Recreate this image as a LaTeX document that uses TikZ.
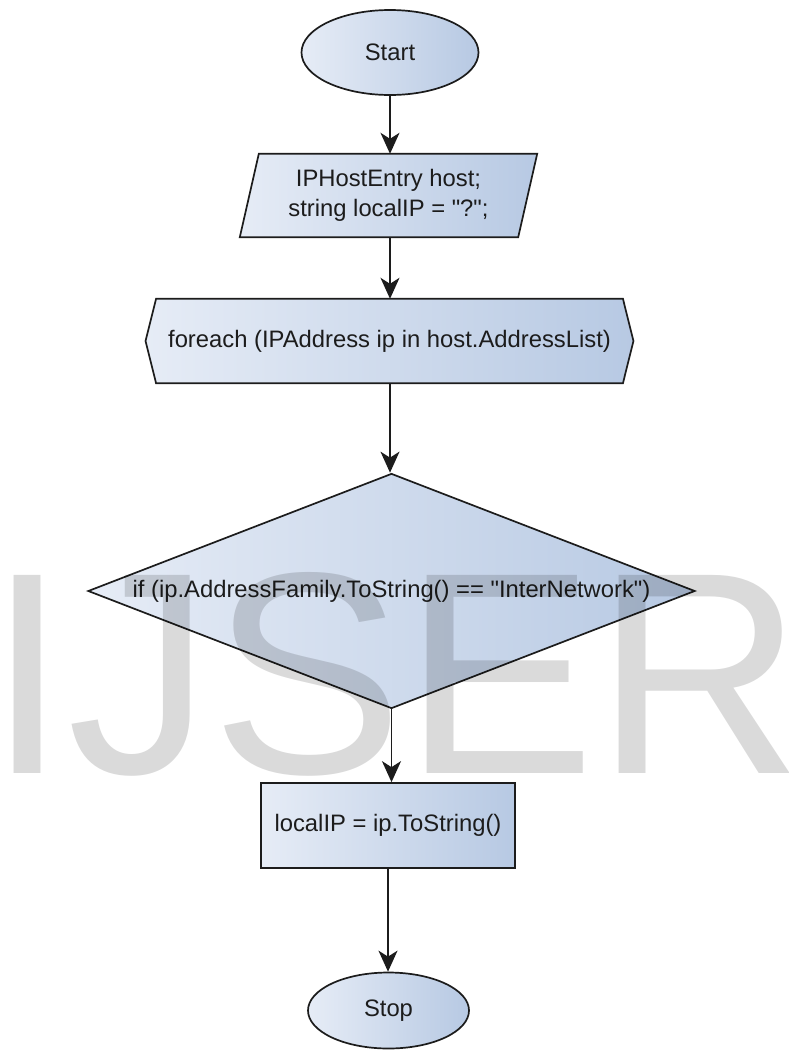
\documentclass[tikz,border=0pt]{standalone}
\usepackage{fontspec}
\newfontfamily\lib{Liberation Sans}
\usetikzlibrary{shapes.geometric,arrows.meta,calc}
\definecolor{gL}{RGB}{230,236,246}
\definecolor{gR}{RGB}{183,201,227}
\definecolor{ink}{RGB}{28,28,28}
\pgfdeclarelayer{bottom}
\pgfdeclarelayer{background}
\pgfdeclarelayer{front}
\pgfsetlayers{bottom,background,main,front}
\begin{document}
\begin{tikzpicture}[x=1pt,y=-1pt,
  font=\lib\fontsize{23.8}{30}\selectfont, text=ink,
  shp/.style={draw=ink, line width=1.7pt, left color=gL, right color=gR},
  box/.style={shp, rectangle, inner sep=0pt},
  term/.style={shp, ellipse, inner sep=0pt},
  ghost/.style={rectangle, inner sep=0pt, draw=none, align=center},
  flow/.style={draw=ink, line width=1.7pt, -{Stealth[length=21pt,width=19pt,inset=6pt]}}
]
\begin{pgfonlayer}{bottom}
  \fill[white] (0,0) rectangle (789,1050);
\end{pgfonlayer}
\useasboundingbox (0,0) rectangle (789,1050);

% nodes
\node[term, minimum width=177pt, minimum height=85pt] (start) at (390,52.5) {Start};

\node[ghost, minimum width=278pt, minimum height=83pt] (init) at (388.5,195.5)
  {IPHostEntry host;\\string localIP = "?";};

\node[ghost, minimum width=466.5pt, minimum height=84pt] (loop) at (389.5,341)
  {foreach (IPAddress ip in host.AddressList)};

\node[shp, diamond, inner sep=0pt, minimum width=607pt, minimum height=235pt] (cond) at (391.5,591) {};
\node[ghost] (condT) at (cond.center) {if (ip.AddressFamily.ToString() == "InterNetwork")};

\node[box, minimum width=254pt, minimum height=85pt] (proc) at (388,825.5) {localIP = ip.ToString()};

\node[term, minimum width=161pt, minimum height=76pt] (stop) at (388.5,1010.5) {Stop};

% custom outlines behind text
\begin{pgfonlayer}{background}
  \path[shp] ($(init.north west)+(9.5,0)$) -- ($(init.north east)+(9.5,0)$)
    -- ($(init.south east)+(-9.5,0)$) -- ($(init.south west)+(-9.5,0)$) -- cycle;
  \path[shp] (loop.north west) -- (loop.north east) -- ($(loop.east)+(10.5,0)$)
    -- (loop.south east) -- (loop.south west) -- ($(loop.west)+(-10.5,0)$) -- cycle;
\end{pgfonlayer}

% connectors
\draw[flow] (start.south) -- (start.south |- init.north);
\draw[flow] (init.south -| start.south) -- (start.south |- loop.north);
\draw[flow] (loop.south -| start.south) -- (start.south |- cond.north);
\draw[flow] (cond.south) -- (cond.south |- proc.north);
\draw[flow] (proc.south) -- (proc.south |- stop.north);

% watermark
\begin{pgfonlayer}{front}
  \node[anchor=base west, inner sep=0pt, font=\lib\fontsize{288}{288}\selectfont,
        text=black, text opacity=0.145] (wm) at (-13,773) {IJSER};
\end{pgfonlayer}
\end{tikzpicture}
\end{document}
